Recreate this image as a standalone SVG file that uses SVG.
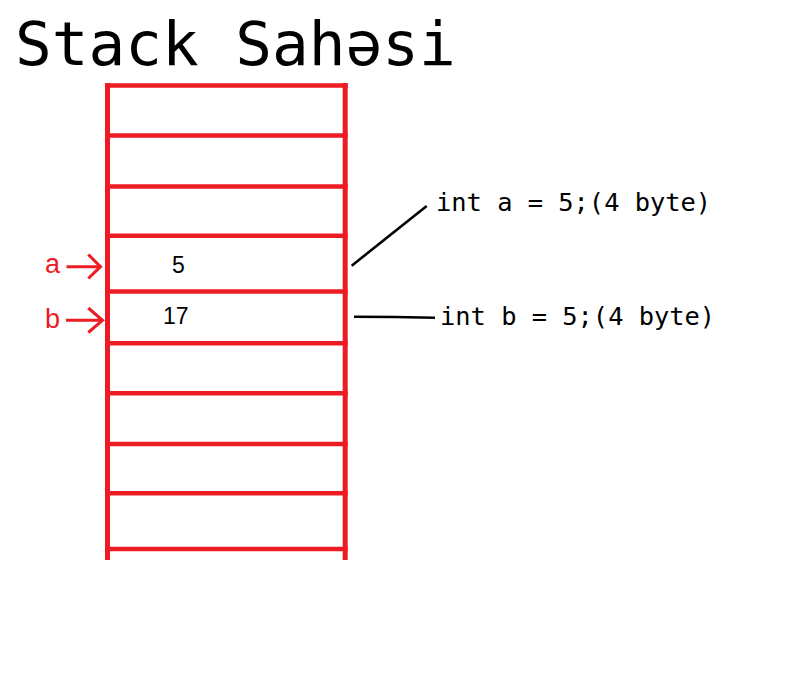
<svg xmlns="http://www.w3.org/2000/svg" width="812" height="684" viewBox="0 0 812 684">
<style>
.red{stroke:#ED1C24;fill:none}
.bar{stroke-width:5}
.row{stroke-width:4.6}
.arr{stroke-width:3;stroke-linecap:butt;stroke-linejoin:miter}
.blk{stroke:#000;stroke-width:2.6;fill:none}
.mono{font-family:"DejaVu Sans Mono","Liberation Mono",monospace;fill:#000}
.sans{font-family:"Liberation Sans","DejaVu Sans",sans-serif}
</style>
<rect width="812" height="684" fill="#fff"/>
<g id="title"><text class="mono" x="15" y="65" font-size="61">Stack Sahəsi</text></g>
<g id="stack">
<line class="red bar" x1="107.5" y1="83" x2="107.5" y2="560"/>
<line class="red bar" x1="345.2" y1="83" x2="345.2" y2="560"/>
<g class="red row">
<line x1="105" y1="85.5" x2="347.7" y2="85.5"/>
<line x1="105" y1="135.5" x2="347.7" y2="135.5"/>
<line x1="105" y1="186.5" x2="347.7" y2="186.5"/>
<line x1="105" y1="235.7" x2="347.7" y2="235.7"/>
<line x1="105" y1="291.5" x2="347.7" y2="291.5"/>
<line x1="105" y1="343.3" x2="347.7" y2="343.3"/>
<line x1="105" y1="393.3" x2="347.7" y2="393.3"/>
<line x1="105" y1="444" x2="347.7" y2="444"/>
<line x1="105" y1="493.3" x2="347.7" y2="493.3"/>
<line x1="105" y1="549" x2="347.7" y2="549"/>
</g>
<text class="sans" x="172" y="272.5" font-size="23" fill="#000">5</text>
<text class="sans" x="163" y="324.3" font-size="23" fill="#000">17</text>
</g>
<g id="label-a">
<text class="sans" x="45" y="272.5" font-size="27" fill="#ED1C24">a</text>
</g>
<g id="label-b">
<text class="sans" x="45" y="328" font-size="27" fill="#ED1C24">b</text>
</g>
<g id="note-a"><text class="mono" x="436" y="210.5" font-size="25.4">int a = 5;(4 byte)</text></g>
<g id="note-b"><text class="mono" x="440" y="325" font-size="25.4">int b = 5;(4 byte)</text></g>
<g id="connectors">
<line class="red arr" x1="66.5" y1="266.7" x2="100" y2="266.7"/>
<polyline class="red arr" points="88.3,254.5 100.5,266.7 88.3,278.5"/>
<line class="red arr" x1="66" y1="320.3" x2="102" y2="320.3"/>
<polyline class="red arr" points="88.3,308 102.5,320.3 88.3,332.5"/>
<line class="blk" x1="351.7" y1="265.7" x2="426.7" y2="206"/>
<polyline class="blk" points="354,316.7 395,317 435,317.7"/>
</g>
</svg>
